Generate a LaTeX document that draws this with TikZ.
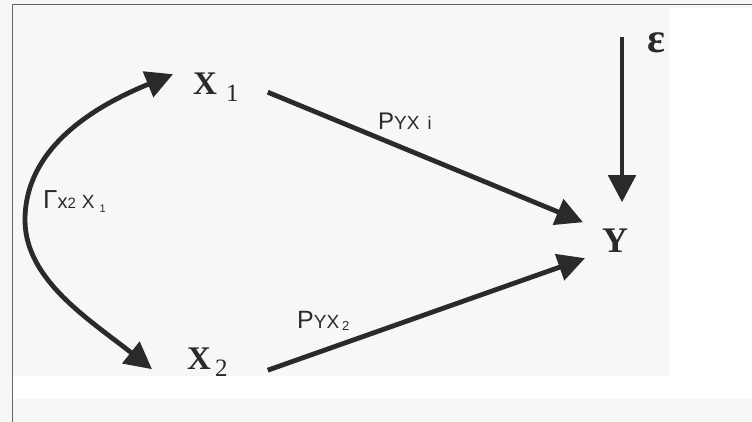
\documentclass[tikz,border=0pt]{standalone}
\usepackage{fontspec}
\setmainfont{Liberation Serif}
\setsansfont{Liberation Sans}
\usetikzlibrary{arrows.meta,positioning,calc}
\definecolor{ink}{RGB}{42,42,42}
\definecolor{scanbg}{RGB}{247,247,247}

\begin{document}
\begin{tikzpicture}[
    x=1pt, y=-1pt,
    var/.style={inner sep=0pt, anchor=base west, text=ink, font=\bfseries\fontsize{33}{33}\selectfont},
    coef/.style={inner sep=0pt, anchor=base west, text=ink, font=\sffamily},
    arrow/.style={-{Triangle[length=27pt,width=27pt]}, line width=4.8pt, draw=ink},
    dblarrow/.style={{Triangle[length=27pt,width=27pt]}-{Triangle[length=27pt,width=27pt]}, line width=4.8pt, draw=ink},
    frame/.style={draw=black!60, line width=1pt},
]
    % Background and frame
    \useasboundingbox (0,0) rectangle (752,422);
    \fill[scanbg] (0,0) rectangle (752,422);
    \fill[white] (669,8) rectangle (752,376);
    \fill[white] (13,376) rectangle (752,399);
    \draw[frame] (12,422) -- (12,5) -- (752,5);

    % Variables
    \node[var] (X1) at (193,95) {X\hspace{9pt}\raisebox{-7pt}{\mdseries\fontsize{25}{25}\selectfont 1}};
    \node[var] (X2) at (187,369) {X\hspace{4pt}\raisebox{-7pt}{\mdseries\fontsize{25}{25}\selectfont 2}};
    \node[var, font=\bfseries\fontsize{36}{36}\selectfont] (Y) at (602,252) {Y};
    \node[var, font=\bfseries\fontsize{42}{42}\selectfont] (eps) at (647,53) {ε};
    \coordinate (epstop) at (622,37);

    % Coefficients
    \node[coef] (rX) at (43,208) {{\fontsize{26}{26}\selectfont Γ}{\fontsize{20}{20}\selectfont x}{\fontsize{15}{15}\selectfont 2}\hspace{6pt}{\fontsize{19}{19}\selectfont X}\hspace{5pt}\raisebox{-4pt}{\fontsize{11}{11}\selectfont 1}};
    \node[coef] (p1) at (378,130) {{\fontsize{24}{24}\selectfont P}{\fontsize{19}{19}\selectfont YX}\hspace{8pt}{\fontsize{18}{18}\selectfont i}};
    \node[coef] (p2) at (297,328) {{\fontsize{25}{25}\selectfont P}{\fontsize{19}{19}\selectfont YX}\hspace{3pt}\raisebox{-2pt}{\fontsize{13}{13}\selectfont 2}};

    % Arrows
    \draw[dblarrow] ([xshift=-35pt,yshift=-7.5pt]X2.west) .. controls (90,320) and (25,280) .. (25,220)
        .. controls (25,150) and (90,108) .. ([xshift=-20pt,yshift=13.5pt]X1.west);
    \draw[arrow] ([xshift=29pt,yshift=-4.5pt]X1.east) -- ([xshift=-19pt,yshift=18pt]Y.west);
    \draw[arrow] ([xshift=40pt,yshift=-8.5pt]X2.east) -- ([xshift=-17pt,yshift=-18pt]Y.west);
    \draw[arrow] (epstop) -- ([yshift=26pt]epstop |- Y.north);
\end{tikzpicture}
\end{document}
